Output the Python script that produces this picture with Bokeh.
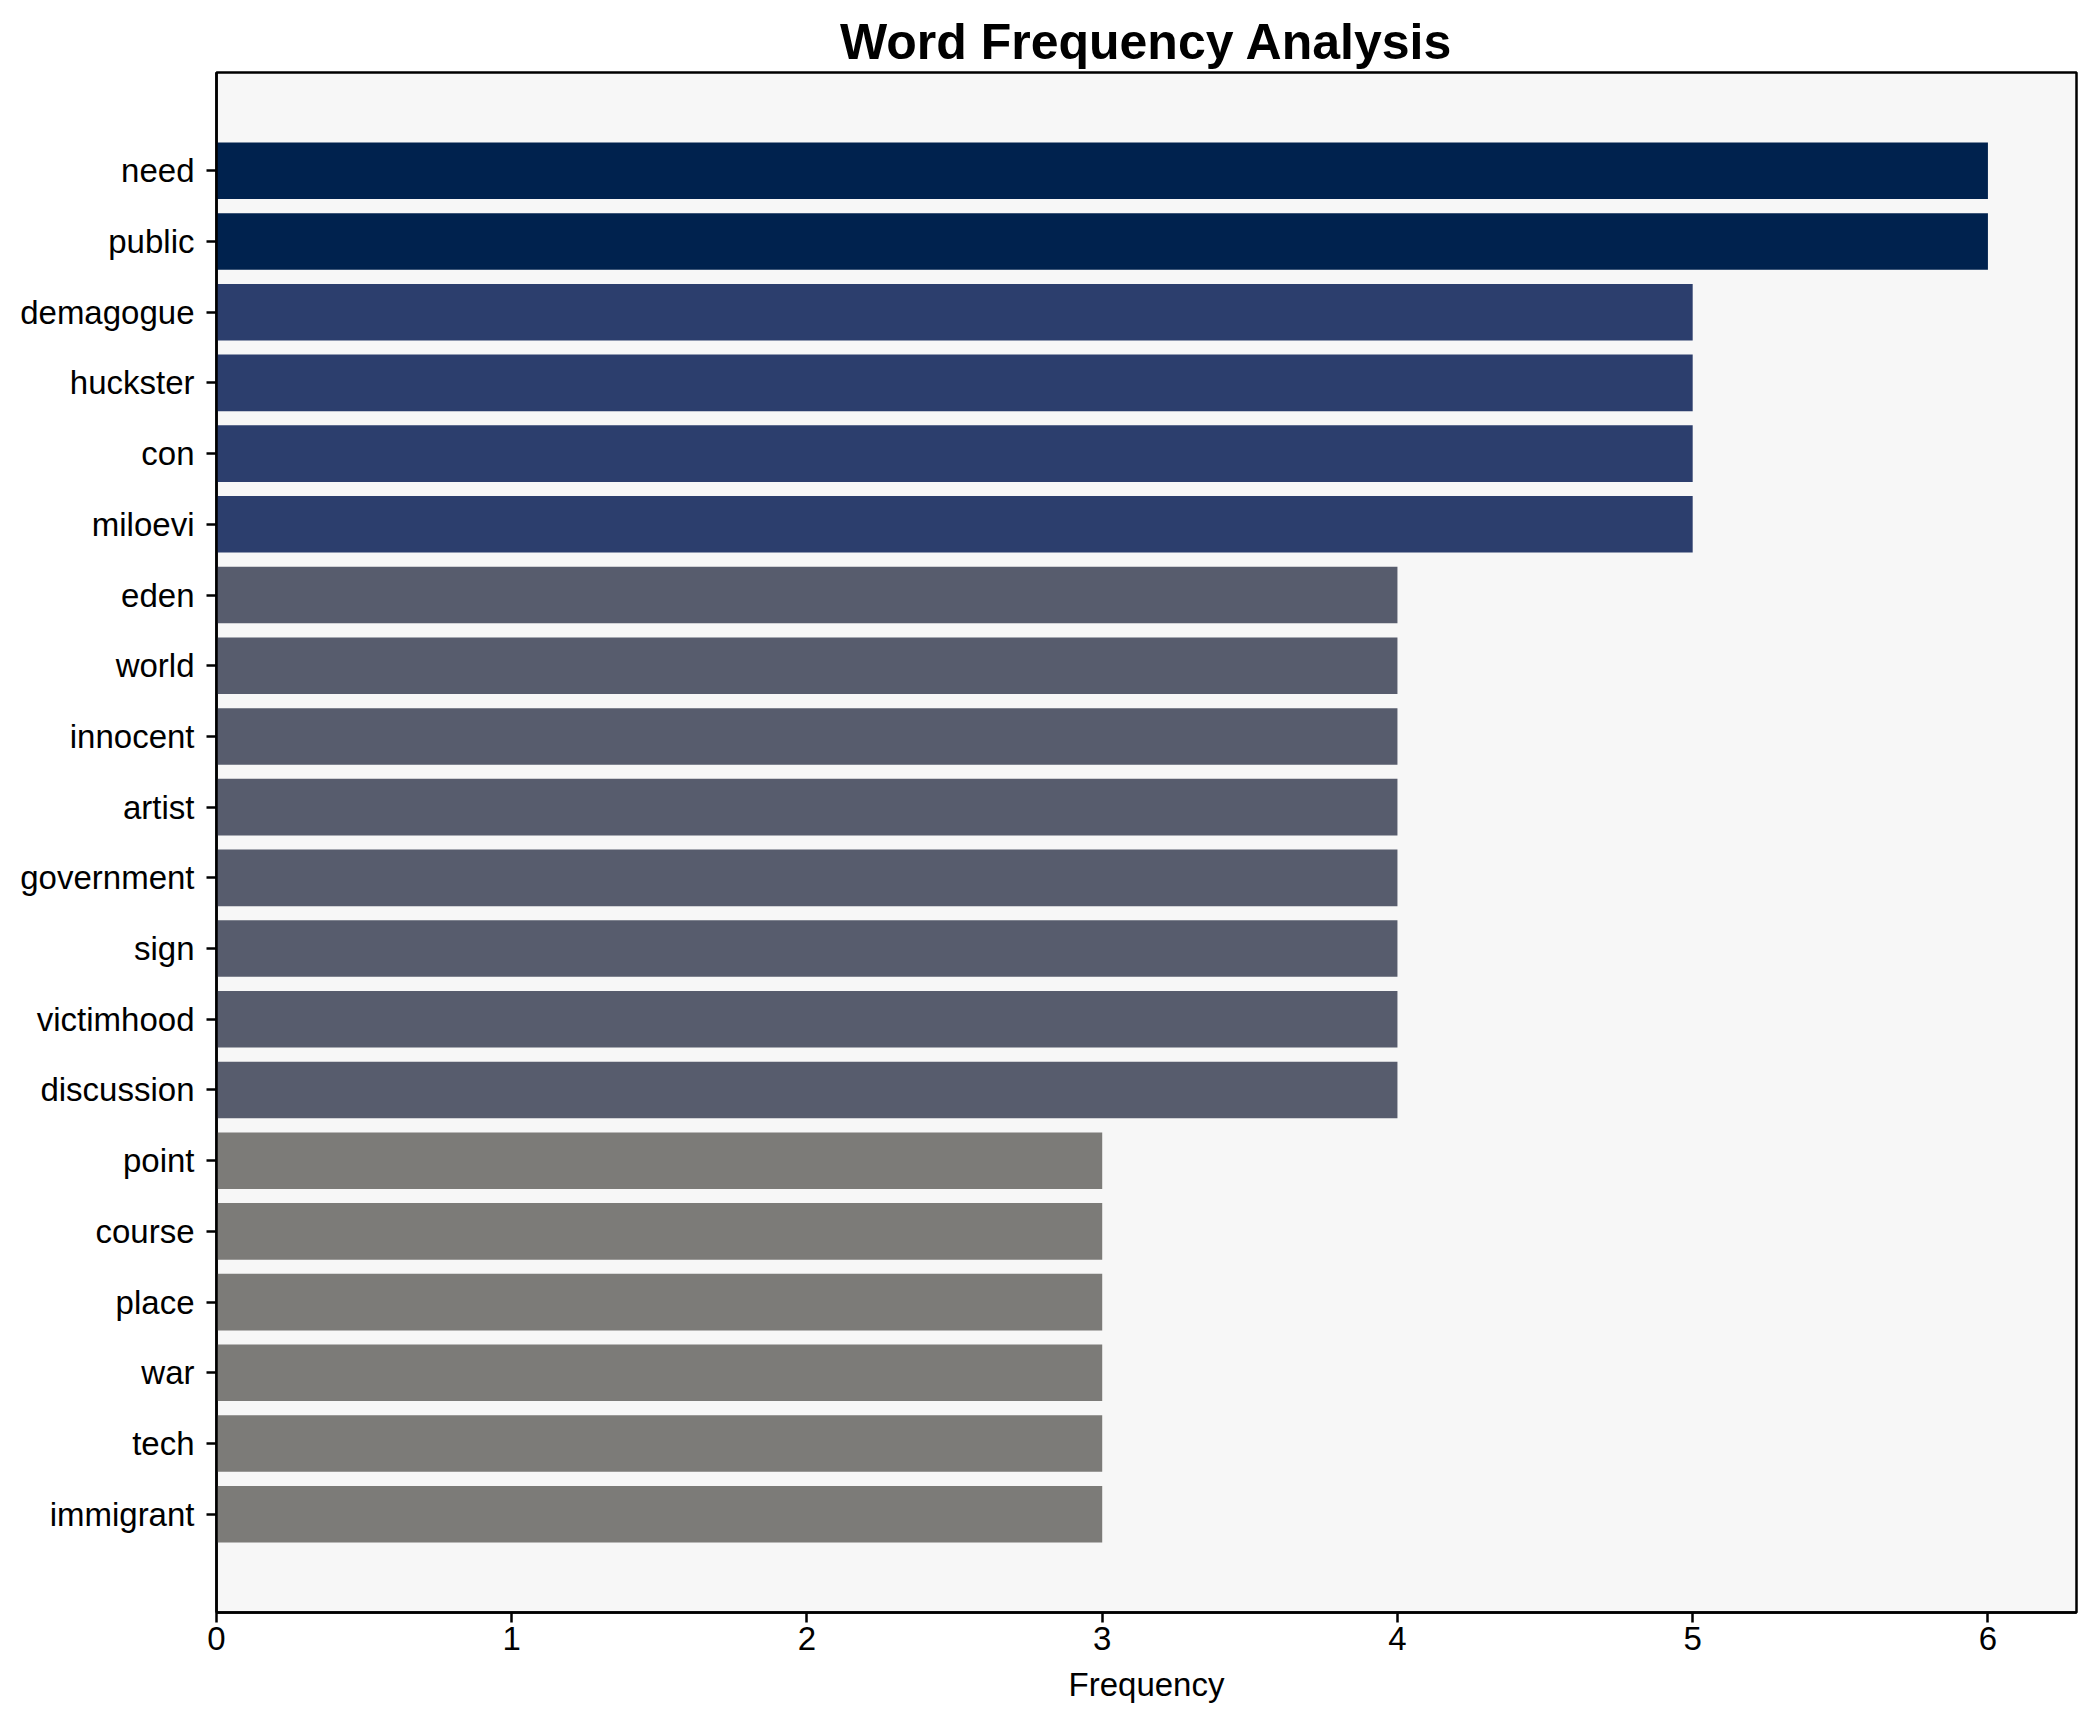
from bokeh.plotting import figure
from bokeh.models import FactorRange, Range1d, ColumnDataSource
from bokeh.embed import file_html
from bokeh.resources import INLINE

words = ["need", "public", "demagogue", "huckster", "con", "miloevi", "eden", "world",
         "innocent", "artist", "government", "sign", "victimhood", "discussion",
         "point", "course", "place", "war", "tech", "immigrant"]
counts = [6, 6, 5, 5, 5, 5, 4, 4, 4, 4, 4, 4, 4, 4, 3, 3, 3, 3, 3, 3]

# cividis-like shades, darkest for the highest count
shades = ["#00224e", "#2c3e6d", "#575c6d", "#7c7b78"]
max_count = max(counts)
colors = [shades[min(len(shades) - 1, max_count - c)] for c in counts]

source = ColumnDataSource(dict(word=words, count=counts, color=colors))

FONT = "Liberation Sans"

p = figure(
    width=2088, height=1712,
    y_range=FactorRange(factors=list(reversed(words)), range_padding=0.089,
                        range_padding_units="percent"),
    x_range=Range1d(0, 6.3),
    output_backend="svg", toolbar_location=None,
    title="Word Frequency Analysis",
    min_border_left=216, min_border_right=12, min_border_top=72, min_border_bottom=100,
)

p.hbar(y="word", right="count", left=0, height=0.8, color="color",
       line_color=None, source=source)

p.title.text_font = FONT
p.title.text_font_size = "50px"
p.title.text_font_style = "bold"
p.title.align = "center"
p.title.text_color = "black"
p.title.standoff = 6

p.background_fill_color = "#f7f7f7"
p.border_fill_color = "white"
p.outline_line_color = "black"
p.outline_line_width = 2.5
p.outline_line_alpha = 1.0

p.xgrid.visible = False
p.ygrid.visible = False

p.xaxis.ticker = [0, 1, 2, 3, 4, 5, 6]
p.xaxis.axis_label = "Frequency"

for ax in (p.xaxis[0], p.yaxis[0]):
    ax.axis_line_color = "black"
    ax.axis_line_width = 2.5
    ax.major_tick_line_color = "black"
    ax.major_tick_line_width = 2.5
    ax.major_tick_out = 10
    ax.major_tick_in = 0
    ax.minor_tick_line_color = None
    ax.major_label_text_font = FONT
    ax.major_label_text_font_size = "33px"
    ax.major_label_text_color = "black"
    ax.axis_label_text_font = FONT
    ax.axis_label_text_font_size = "33px"
    ax.axis_label_text_font_style = "normal"
    ax.axis_label_text_color = "black"

p.yaxis.major_label_standoff = 12
p.xaxis.major_label_standoff = 4
p.xaxis.axis_label_standoff = 13

open("out.html", "w").write(file_html(p, INLINE))
